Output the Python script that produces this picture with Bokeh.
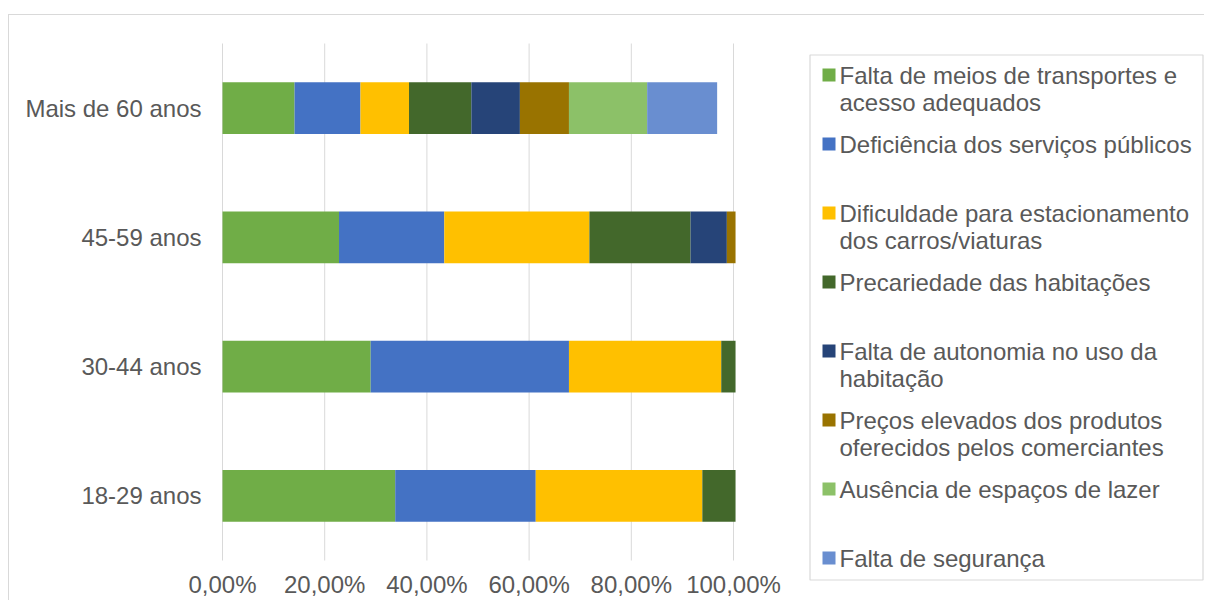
from bokeh.plotting import figure
from bokeh.models import ColumnDataSource, Range1d, Spacer
from bokeh.layouts import row, column
from bokeh.core.properties import value
from bokeh.embed import file_html
from bokeh.resources import INLINE

# ---------------- data ----------------
categories = ["18-29 anos", "30-44 anos", "45-59 anos", "Mais de 60 anos"]

series_names = [
    "Falta de meios de transportes e\nacesso adequados",
    "Deficiência dos serviços públicos",
    "Dificuldade para estacionamento\ndos carros/viaturas",
    "Precariedade das habitações",
    "Falta de autonomia no uso da\nhabitação",
    "Preços elevados dos produtos\noferecidos pelos comerciantes",
    "Ausência de espaços de lazer",
    "Falta de segurança",
]
series_colors = ["#70AD47", "#4472C4", "#FFC000", "#43682B",
                 "#264478", "#997300", "#8CC168", "#698ED0"]

# values per series, in category order (18-29, 30-44, 45-59, 60+)
transportes    = [0.338, 0.290, 0.228, 0.141]
servicos       = [0.275, 0.388, 0.206, 0.129]
estacionamento = [0.326, 0.298, 0.284, 0.095]
habitacoes     = [0.065, 0.028, 0.198, 0.122]
autonomia      = [0.000, 0.000, 0.071, 0.095]
precos         = [0.000, 0.000, 0.017, 0.096]
lazer          = [0.000, 0.000, 0.000, 0.153]
seguranca      = [0.000, 0.000, 0.000, 0.137]

x_ticks = [0.0, 0.2, 0.4, 0.6, 0.8, 1.0]
x_tick_labels = ["0,00%", "20,00%", "40,00%", "60,00%", "80,00%", "100,00%"]

# ---------------- style / layout constants (page pixels) ----------------
FONT = "Liberation Sans"
FS = "24px"
TXT = "#595959"
GRID = "#d9d9d9"

PAGE_L, PAGE_T = 9, 15          # top-left of the figures (inside the border)
H = 585
MAIN_W = 781
X0_PX, X100_PX = 222, 733       # 0 % and 100 % positions
Y_TOP_PX, Y_BOT_PX = 43, 560    # category band
N = len(categories)

px_x = float(X100_PX - X0_PX)
px_y = (Y_BOT_PX - Y_TOP_PX) / N
x_start = -(X0_PX - PAGE_L) / px_x
x_end = (PAGE_L + MAIN_W - X0_PX) / px_x
y_start = -(PAGE_T + H - Y_BOT_PX) / px_y
y_end = N + (Y_TOP_PX - PAGE_T) / px_y
ylab_x = -21 / px_x             # y labels end 21 px left of 0 %
xlab_y = -24 / px_y             # x labels centred 24 px below the band

keys = ["s%d" % i for i in range(len(series_names))]
all_vals = [transportes, servicos, estacionamento, habitacoes,
            autonomia, precos, lazer, seguranca]
ypos = [i + 0.5 for i in range(N)]
data = {"y": ypos}
for k, v in zip(keys, all_vals):
    data[k] = v
src = ColumnDataSource(data)

p = figure(width=MAIN_W, height=H, output_backend="svg", toolbar_location=None,
           x_range=Range1d(x_start, x_end), y_range=Range1d(y_start, y_end),
           min_border=0)
p.outline_line_color = None
p.background_fill_color = "white"
p.border_fill_color = "white"
p.grid.visible = False
p.axis.visible = False

# vertical gridlines over the category band
p.segment(x0=x_ticks, x1=x_ticks, y0=[0] * len(x_ticks), y1=[N] * len(x_ticks),
          line_color=GRID, line_width=1)

p.hbar_stack(keys, y="y", height=0.4, fill_color=series_colors,
             line_color=None, source=src)

# x tick labels
p.text(x=x_ticks, y=[xlab_y] * len(x_ticks), text=x_tick_labels,
       text_font=value(FONT), text_font_size=FS, text_color=TXT,
       text_align="center", text_baseline="middle")
# category labels
p.text(x=[ylab_x] * N, y=ypos, text=categories,
       text_font=value(FONT), text_font_size=FS, text_color=TXT,
       text_align="right", text_baseline="middle")

# ---------------- legend (separate panel, page coordinates) ----------------
LX0, LW = PAGE_L + MAIN_W, 414
leg = figure(width=LW, height=H, output_backend="svg", toolbar_location=None,
             x_range=Range1d(LX0, LX0 + LW),
             y_range=Range1d(PAGE_T + H, PAGE_T),
             min_border=0)
leg.axis.visible = False
leg.grid.visible = False
leg.outline_line_color = None
leg.background_fill_color = "white"
leg.border_fill_color = "white"

BOX_L, BOX_R, BOX_T, BOX_B = 809.5, 1202.5, 54.5, 579.5
leg.quad(left=[BOX_L], right=[BOX_R], top=[BOX_T], bottom=[BOX_B],
         fill_color=None, line_color=GRID, line_width=1.2)

SLOT0, SLOT = 75, 69
LINE_H = 26.5
sq_x, sq_y, sq_c = [], [], []
tx, ty, tt = [], [], []
for i, (name, col) in enumerate(zip(series_names, series_colors)):
    y0 = SLOT0 + SLOT * i
    sq_x.append(828.5)
    sq_y.append(y0 - 0.5)
    sq_c.append(col)
    for j, line in enumerate(name.split("\n")):
        tx.append(839)
        ty.append(y0 + LINE_H * j)
        tt.append(line)
leg.rect(x=sq_x, y=sq_y, width=13, height=13, fill_color=sq_c, line_color=None)
leg.text(x=tx, y=ty, text=tt, text_font=value(FONT), text_font_size=FS,
         text_color=TXT, text_baseline="middle", text_align="left")

chart = row(p, leg, spacing=0,
            styles={"border-left": "1px solid #d9d9d9",
                    "border-top": "1px solid #d9d9d9"})
layout = column(
    Spacer(width=10, height=14),
    row(Spacer(width=8, height=10), chart, spacing=0),
    spacing=0)

open("out.html", "w").write(file_html(layout, INLINE))
